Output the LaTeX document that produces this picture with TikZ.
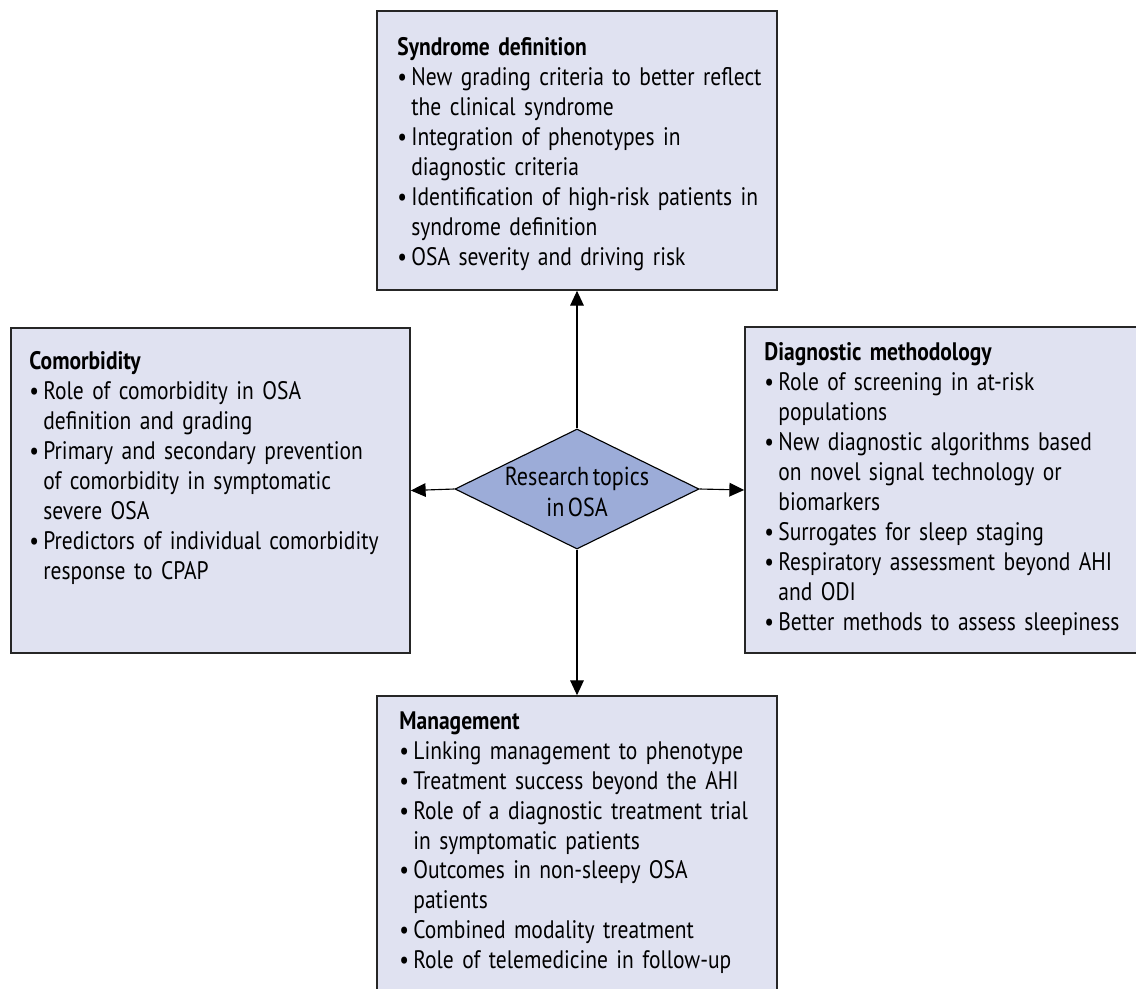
\documentclass[tikz,border=0pt]{standalone}
\usepackage{fontspec}
\setmainfont{PT Sans}[FakeStretch=0.85, WordSpace=0.6]
\usepackage{tikz}
\usetikzlibrary{arrows.meta,shapes.geometric,positioning}

\definecolor{boxfill}{RGB}{224,226,241}
\definecolor{hubfill}{RGB}{156,172,216}

% bullet item with hanging indent
\newcommand{\itm}{\par\hangindent=0.55em\hangafter=1\noindent\makebox[0.55em][l]{\textbullet}}

\tikzset{
  topic/.style={draw=black!85, line width=1.1pt, fill=boxfill, inner sep=0pt},
  txt/.style={anchor=north west, inner sep=0pt, text width=11cm, align=left,
    font=\fontsize{18pt}{21.3pt}\selectfont},
  hub/.style={diamond, draw=black, line width=0.8pt, fill=hubfill, inner sep=0pt,
    minimum width=6.1cm, minimum height=3cm},
  conn/.style={line width=0.8pt, -{Triangle[length=0.37cm,width=0.34cm]}}
}

\begin{document}
\begin{tikzpicture}[x=0.025cm,y=-0.025cm]
                % fix the page to the reference size
                \useasboundingbox (0,0) rectangle (1136,988);

                % the four topic boxes
                \node[topic, minimum width=10cm, minimum height=6.975cm] (syn) at (577,150.5) {};
                \node[topic, minimum width=9.975cm, minimum height=8.125cm] (comorb) at (210.5,490.5) {};
                \node[topic, minimum width=9.8cm, minimum height=8.15cm] (diag) at (941,490) {};
                \node[topic, minimum width=10cm, minimum height=7.6cm] (mgmt) at (577,848) {};

                % box texts, placed from the top left corners
                \node[txt] (syntxt) at ([xshift=0.525cm,yshift=-0.675cm]syn.north west)
                  {\textbf{Syndrome definition}
                   \itm New grading criteria to better reflect\newline the clinical syndrome
                   \itm Integration of phenotypes in\newline diagnostic criteria
                   \itm Identification of high-risk patients in\newline syndrome definition
                   \itm OSA severity and driving risk\par};
                \node[txt] (comorbtxt) at ([xshift=0.475cm,yshift=-0.6cm]comorb.north west)
                  {\textbf{Comorbidity}
                   \itm Role of comorbidity in OSA\newline definition and grading
                   \itm Primary and secondary prevention\newline of comorbidity in symptomatic\newline severe OSA
                   \itm Predictors of individual comorbidity\newline response to CPAP\par};
                \node[txt] (diagtxt) at ([xshift=0.5cm,yshift=-0.4cm]diag.north west)
                  {\textbf{Diagnostic methodology}
                   \itm Role of screening in at-risk\newline populations
                   \itm New diagnostic algorithms based\newline on novel signal technology or\newline biomarkers
                   \itm Surrogates for sleep staging
                   \itm Respiratory assessment beyond AHI\newline and ODI
                   \itm Better methods to assess sleepiness\par};
                \node[txt] (mgmttxt) at ([xshift=0.575cm,yshift=-0.4cm]mgmt.north west)
                  {\textbf{Management}
                   \itm Linking management to phenotype
                   \itm Treatment success beyond the AHI
                   \itm Role of a diagnostic treatment trial\newline in symptomatic patients
                   \itm Outcomes in non-sleepy OSA\newline patients
                   \itm Combined modality treatment
                   \itm Role of telemedicine in follow-up\par};

                % central diamond
                \node[hub, label={[align=center, yshift=-0.08cm, font=\fontsize{18.5pt}{22pt}\selectfont]center:Research topics\\in OSA}] (osa) at (577,489) {};

                % arrows out to the boxes
                \draw[conn] (osa.north) -- (syn.south);
                \draw[conn] (osa.west) -- (comorb.east);
                \draw[conn] (osa.east) -- (diag.west);
                \draw[conn] (osa.south) -- (mgmt.north);
            \end{tikzpicture}
\end{document}
